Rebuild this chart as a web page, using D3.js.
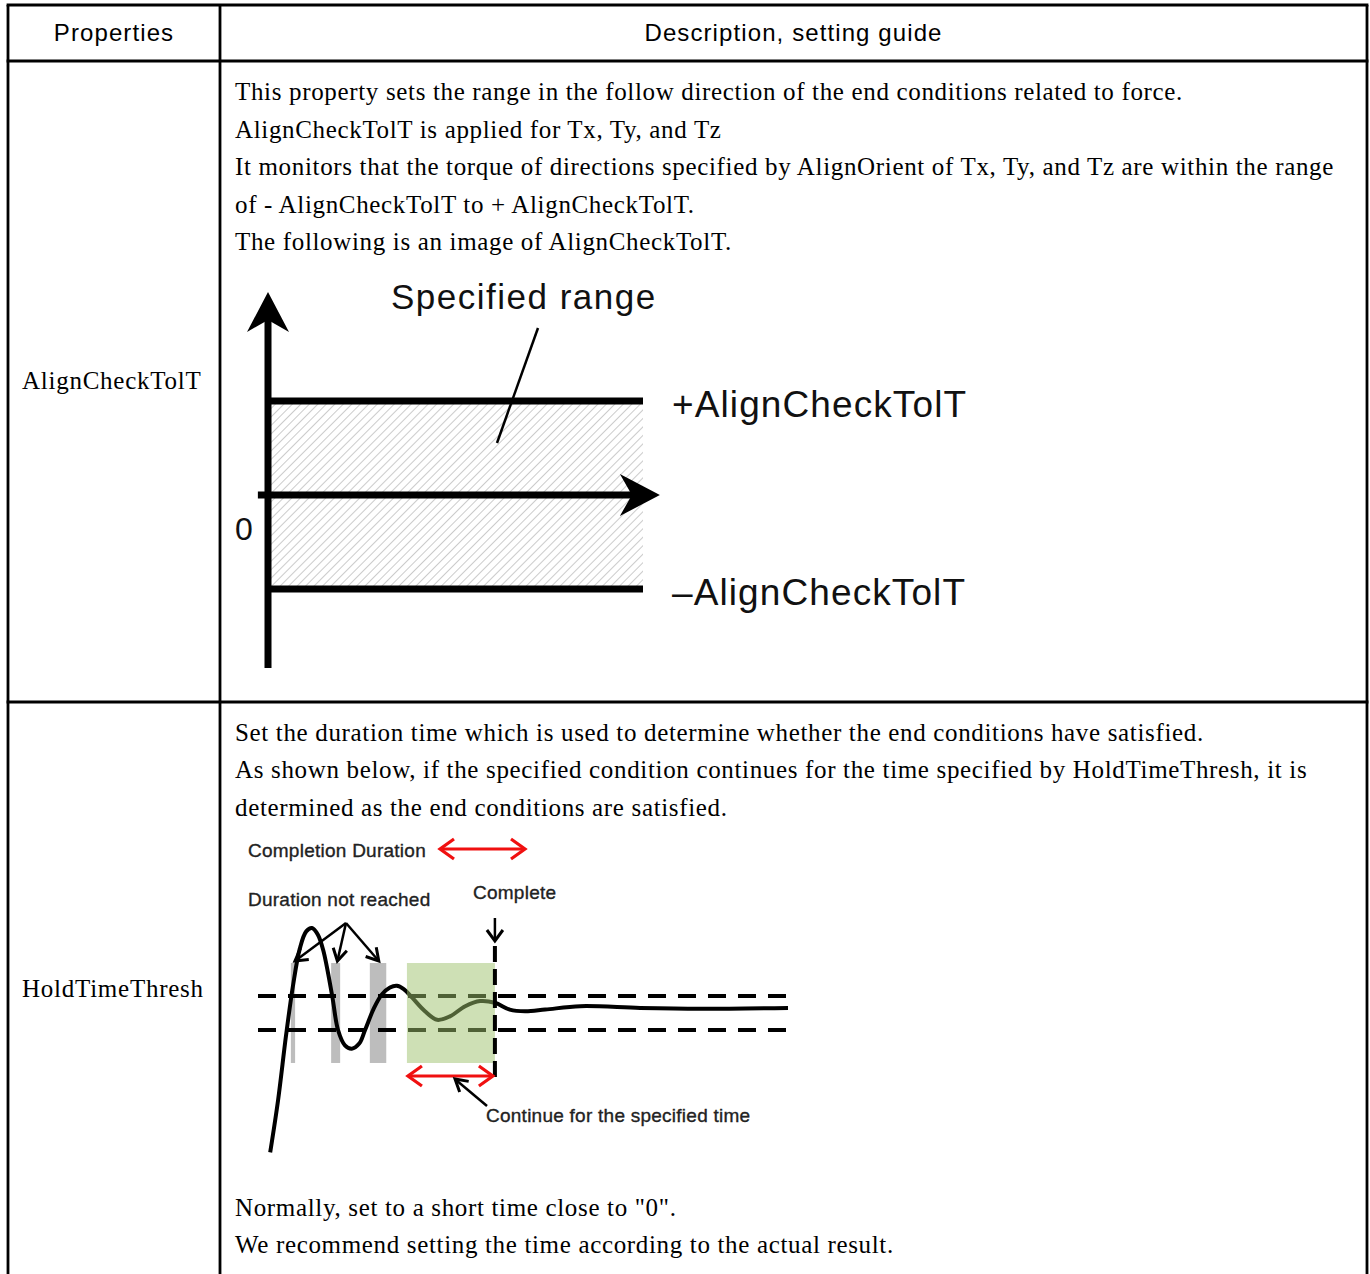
<!DOCTYPE html>
<html>
<head>
<meta charset="utf-8">
<script src="https://cdn.jsdelivr.net/npm/d3@7"></script>
<style>
  body { margin: 0; background: #fff; }
  svg { display: block; }
</style>
</head>
<body>
<script>
const width = 1370;
const height = 1274;

// ---- data ----
const headers = ["Properties", "Description, setting guide"];
const properties = ["AlignCheckTolT", "HoldTimeThresh"];

const alignLines = [
  "This property sets the range in the follow direction of the end conditions related to force.",
  "AlignCheckTolT is applied for Tx, Ty, and Tz",
  "It monitors that the torque of directions specified by AlignOrient of Tx, Ty, and Tz are within the range",
  "of - AlignCheckTolT to + AlignCheckTolT.",
  "The following is an image of AlignCheckTolT."
];
const holdLines = [
  "Set the duration time which is used to determine whether the end conditions have satisfied.",
  "As shown below, if the specified condition continues for the time specified by HoldTimeThresh, it is",
  "determined as the end conditions are satisfied."
];
const holdNotes = [
  "Normally, set to a short time close to \"0\".",
  "We recommend setting the time according to the actual result."
];

// tolerance band of diagram 1
const tolBand = [-1, 1];
const tolLabels = ["+AlignCheckTolT", "\u2013AlignCheckTolT"];

// diagram 2: response signal (time, value), band limits = +-1
const signal = [
  [2.3, -8.2], [3.8, -5.1], [5.3, -1.3], [6.6, 1.6], [7.9, 3.8], [9.1, 4.8],
  [10.2, 5.0], [11.3, 4.6], [12.3, 3.7], [14.0, 1.0], [15.1, -1.0], [16.4, -1.9],
  [17.7, -2.1], [19.1, -1.8], [20.2, -1.0], [21.9, 0.3], [23.4, 1.1], [24.9, 1.5],
  [26.2, 1.6], [27.5, 1.4], [29.1, 0.9], [31.5, 0.1], [33.8, -0.4], [36.2, -0.2],
  [39.1, 0.4], [41.9, 0.7], [44.7, 0.6], [47.5, 0.2], [50.4, 0.1], [54.2, 0.2],
  [60.8, 0.4], [72.1, 0.3], [83.4, 0.25], [100, 0.3]
];
const notReached = [[6.2, 7.0], [13.8, 15.5], [21.1, 24.2]];
const holdSpan = [28.1, 44.7];

const serif = "'Liberation Serif', 'Times New Roman', serif";
const sans = "'Liberation Sans', Arial, sans-serif";

const svg = d3.select("body").append("svg")
  .attr("width", width)
  .attr("height", height);

const defs = svg.append("defs");
const hatch = defs.append("pattern")
  .attr("id", "hatch")
  .attr("patternUnits", "userSpaceOnUse")
  .attr("width", 6).attr("height", 6)
  .attr("patternTransform", "rotate(45)");
hatch.append("line")
  .attr("x1", 0).attr("y1", 0).attr("x2", 0).attr("y2", 6)
  .attr("stroke", "#b4b4b4").attr("stroke-width", 1.4);

// ---- table ----
const colX = [8, 220, 1367];
const rowY = [5, 61, 702];
const grid = svg.append("g").attr("stroke", "#000").attr("stroke-width", 2.8);
rowY.forEach(y => grid.append("line").attr("x1", colX[0] - 1.4).attr("x2", colX[2] + 1.4).attr("y1", y).attr("y2", y));
colX.forEach(x => grid.append("line").attr("x1", x).attr("x2", x).attr("y1", rowY[0]).attr("y2", height + 5));

svg.selectAll(".hdr")
  .data(headers)
  .join("text")
  .attr("class", "hdr")
  .attr("x", (d, i) => (colX[i] + colX[i + 1]) / 2)
  .attr("y", 41)
  .attr("text-anchor", "middle")
  .style("font-family", sans)
  .style("font-size", "24px")
  .style("letter-spacing", "1.1px")
  .text(d => d);

svg.selectAll(".prop")
  .data(properties)
  .join("text")
  .attr("class", "prop")
  .attr("x", 22)
  .attr("y", (d, i) => [389, 997][i])
  .style("font-family", serif)
  .style("font-size", "25px")
  .style("letter-spacing", "0.75px")
  .text(d => d);

function textBlock(lines, x, y0, step) {
  svg.append("g").selectAll("text")
    .data(lines)
    .join("text")
    .attr("x", x)
    .attr("y", (d, i) => y0 + i * step)
    .style("font-family", serif)
    .style("font-size", "25px")
    .style("letter-spacing", "0.66px")
    .text(d => d);
}
textBlock(alignLines, 235, 100, 37.6);
textBlock(holdLines, 235, 741, 37.4);
textBlock(holdNotes, 235, 1216, 36.5);

// arrow helpers
function barbHead(tip, ang, len, half, notch) {
  const c = Math.cos(ang), s = Math.sin(ang);
  const p = (a, b) => [tip[0] - a * c - b * s, tip[1] - a * s + b * c];
  const b1 = p(len, half), b2 = p(len, -half), n = p(len - notch, 0);
  return `M${tip}L${b1}L${n}L${b2}Z`;
}
function openHead(tip, ang, len, half) {
  const c = Math.cos(ang), s = Math.sin(ang);
  const p = (a, b) => [tip[0] - a * c - b * s, tip[1] - a * s + b * c];
  return `M${p(len, half)}L${tip}L${p(len, -half)}`;
}

// ---- diagram 1: AlignCheckTolT ----
const xT = d3.scaleLinear([0, 1], [268, 643]);
const yT = d3.scaleLinear(tolBand, [589, 401]);
const d1 = svg.append("g");

d1.append("rect")
  .attr("x", xT(0) + 3).attr("y", yT(tolBand[1]) + 3)
  .attr("width", xT(1) - xT(0) - 3)
  .attr("height", yT(tolBand[0]) - yT(tolBand[1]) - 6)
  .attr("fill", "url(#hatch)");

d1.selectAll(".lim")
  .data(tolBand)
  .join("line")
  .attr("x1", xT(0)).attr("x2", xT(1))
  .attr("y1", d => yT(d)).attr("y2", d => yT(d))
  .attr("stroke", "#000").attr("stroke-width", 7);

// axes
d1.append("line")
  .attr("x1", xT(0)).attr("x2", xT(0))
  .attr("y1", yT(-1.84)).attr("y2", yT(1.9))
  .attr("stroke", "#000").attr("stroke-width", 7);
d1.append("path")
  .attr("d", barbHead([xT(0), yT(2.16)], -Math.PI / 2, 40, 21, 12))
  .attr("fill", "#000");
d1.append("line")
  .attr("x1", xT(-0.027)).attr("x2", xT(1.0))
  .attr("y1", yT(0)).attr("y2", yT(0))
  .attr("stroke", "#000").attr("stroke-width", 7);
d1.append("path")
  .attr("d", barbHead([xT(1.045), yT(0)], 0, 40, 21, 12))
  .attr("fill", "#000");

d1.append("text")
  .attr("x", 244).attr("y", yT(0) + 45)
  .attr("text-anchor", "middle")
  .style("font-family", sans).style("font-size", "32px")
  .attr("fill", "#111")
  .text("0");

d1.selectAll(".tol")
  .data(tolLabels)
  .join("text")
  .attr("x", 672)
  .attr("y", (d, i) => yT(tolBand[1 - i]) + 16)
  .style("font-family", sans).style("font-size", "37px")
  .style("letter-spacing", "1.1px")
  .attr("fill", "#111")
  .text(d => d);

d1.append("text")
  .attr("x", 391).attr("y", 309)
  .style("font-family", sans).style("font-size", "35px")
  .style("letter-spacing", "1.5px")
  .attr("fill", "#111")
  .text("Specified range");
d1.append("line")
  .attr("x1", 538).attr("y1", 328).attr("x2", 497).attr("y2", 443)
  .attr("stroke", "#000").attr("stroke-width", 2.5);

// ---- diagram 2: HoldTimeThresh ----
const xH = d3.scaleLinear([0, 100], [258, 788]);
const yH = d3.scaleLinear([-1, 1], [1030, 996]);
const d2 = svg.append("g");
const barTop = yH(2.94), barBot = yH(-2.94);

d2.selectAll(".nr")
  .data(notReached)
  .join("rect")
  .attr("x", d => xH(d[0]))
  .attr("width", d => xH(d[1]) - xH(d[0]))
  .attr("y", barTop).attr("height", barBot - barTop)
  .attr("fill", "#bdbdbd");

d2.selectAll(".band")
  .data([1, -1])
  .join("line")
  .attr("x1", xH(0)).attr("x2", xH(100))
  .attr("y1", d => yH(d)).attr("y2", d => yH(d))
  .attr("stroke", "#000").attr("stroke-width", 4)
  .attr("stroke-dasharray", "18,12");

d2.append("path")
  .datum(signal)
  .attr("d", d3.line().x(d => xH(d[0])).y(d => yH(d[1])).curve(d3.curveCatmullRom.alpha(0.5)))
  .attr("fill", "none").attr("stroke", "#000").attr("stroke-width", 4);

d2.append("rect")
  .attr("x", xH(holdSpan[0])).attr("width", xH(holdSpan[1]) - xH(holdSpan[0]))
  .attr("y", barTop).attr("height", barBot - barTop)
  .attr("fill", "#9dc26b").attr("fill-opacity", 0.5);

// completion marker
const xc = xH(holdSpan[1]);
d2.append("line")
  .attr("x1", xc).attr("x2", xc).attr("y1", 918).attr("y2", 940)
  .attr("stroke", "#000").attr("stroke-width", 2.5);
d2.append("path").attr("d", openHead([xc, 941], Math.PI / 2, 11, 8))
  .attr("fill", "none").attr("stroke", "#000").attr("stroke-width", 3);
d2.append("line")
  .attr("x1", xc).attr("x2", xc).attr("y1", 946).attr("y2", 1084)
  .attr("stroke", "#000").attr("stroke-width", 4)
  .attr("stroke-dasharray", "16,7");

// "duration not reached" callouts
const apex = [346, 923];
const callTips = [[xH(6.6) + 2, 961], [xH(14.6) + 2, 961], [xH(22.6) + 1, 961]];
callTips.forEach(t => {
  d2.append("line")
    .attr("x1", apex[0]).attr("y1", apex[1]).attr("x2", t[0]).attr("y2", t[1])
    .attr("stroke", "#000").attr("stroke-width", 2.5);
  const ang = Math.atan2(t[1] - apex[1], t[0] - apex[0]);
  d2.append("path").attr("d", openHead(t, ang, 12, 7))
    .attr("fill", "none").attr("stroke", "#000").attr("stroke-width", 3);
});

// red double arrows
function redDouble(x1, x2, y) {
  d2.append("line").attr("x1", x1 + 2).attr("x2", x2 - 2).attr("y1", y).attr("y2", y)
    .attr("stroke", "#f01010").attr("stroke-width", 3.2);
  d2.append("path").attr("d", openHead([x1, y], Math.PI, 14, 10))
    .attr("fill", "none").attr("stroke", "#f01010").attr("stroke-width", 3.2);
  d2.append("path").attr("d", openHead([x2, y], 0, 14, 10))
    .attr("fill", "none").attr("stroke", "#f01010").attr("stroke-width", 3.2);
}
redDouble(440, 525, 849);
redDouble(xH(holdSpan[0]) + 1, xc - 2, 1076);

// continue leader
d2.append("line").attr("x1", 487).attr("y1", 1106).attr("x2", 456).attr("y2", 1080)
  .attr("stroke", "#000").attr("stroke-width", 2.5);
d2.append("path").attr("d", openHead([455, 1079], Math.atan2(-27, -32), 12, 7))
  .attr("fill", "none").attr("stroke", "#000").attr("stroke-width", 3);

const labels2 = [
  { t: "Completion Duration", x: 248, y: 857 },
  { t: "Duration not reached", x: 248, y: 906 },
  { t: "Complete", x: 473, y: 899 },
  { t: "Continue for the specified time", x: 486, y: 1122 }
];
d2.selectAll(".lbl")
  .data(labels2)
  .join("text")
  .attr("x", d => d.x).attr("y", d => d.y)
  .style("font-family", sans).style("font-size", "19px")
  .style("letter-spacing", "0.25px")
  .attr("fill", "#222").attr("stroke", "#222").attr("stroke-width", 0.35)
  .text(d => d.t);
</script>
</body>
</html>
